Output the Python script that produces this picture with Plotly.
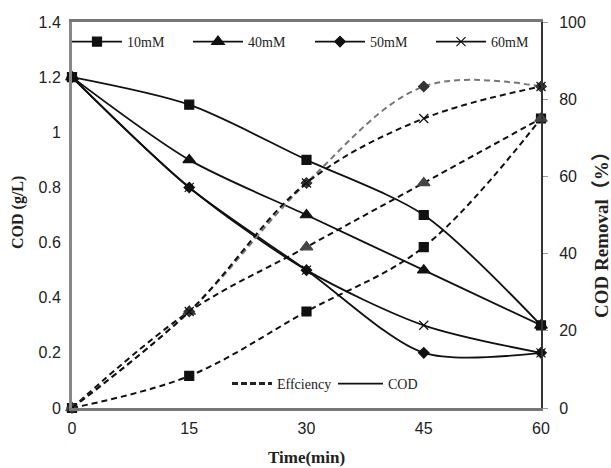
import plotly.graph_objects as go

time_min = [0, 15, 30, 45, 60]
series_names = ["10mM", "40mM", "50mM", "60mM"]

cod_10 = [1.2, 1.1, 0.9, 0.7, 0.3]
cod_40 = [1.2, 0.9, 0.7, 0.5, 0.3]
cod_50 = [1.2, 0.8, 0.5, 0.2, 0.2]
cod_60 = [1.2, 0.8, 0.5, 0.3, 0.2]

eff_10 = [0, 8.3, 25.0, 41.7, 75.0]
eff_40 = [0, 25.0, 41.7, 58.3, 75.0]
eff_50 = [0, 25.0, 58.3, 83.3, 83.3]
eff_60 = [0, 25.0, 58.3, 75.0, 83.3]

cods = [cod_10, cod_40, cod_50, cod_60]
effs = [eff_10, eff_40, eff_50, eff_60]
symbols = ["square", "triangle-up", "diamond", "x-thin"]
sizes = [9, 11, 8, 9]

eff_line_colors = ["#111111", "#111111", "#777777", "#111111"]
eff_marker_colors = ["#111111", "#444444", "#333333", "#111111"]

serif = "Liberation Serif, Times New Roman, serif"
serif_cjk = "Liberation Serif, Noto Sans CJK SC, serif"
sans = "Liberation Sans, Arial, sans-serif"
txt = "#222222"

L, R, T, B = 72, 70, 22, 60
W, H = 611, 468
pw, ph = W - L - R, H - T - B

def px_x(p):
    return (p - L) / pw

def px_y(p):
    return (H - B - p) / ph

fig = go.Figure()

for i in range(4):
    sym = symbols[i]
    fig.add_trace(go.Scatter(
        x=time_min, y=effs[i], yaxis="y2", mode="lines+markers",
        line=dict(color=eff_line_colors[i], width=2, dash="6px,4px", shape="spline", smoothing=1.0),
        marker=dict(symbol=sym, size=sizes[i], color=eff_marker_colors[i],
                    line=dict(color=eff_marker_colors[i] if sym != "x-thin" else "#111111", width=1.2)),
        showlegend=False, cliponaxis=False, hoverinfo="skip"))

legend_ids = ["legend", "legend3", "legend4", "legend5"]
for i in range(4):
    sym = symbols[i]
    fig.add_trace(go.Scatter(
        x=time_min, y=cods[i], mode="lines+markers", name=series_names[i],
        line=dict(color="#111111", width=1.8, shape="spline", smoothing=0.8),
        marker=dict(symbol=sym, size=sizes[i], color="#111111",
                    line=dict(color="#111111", width=1.2)),
        legend=legend_ids[i], cliponaxis=False))

fig.add_trace(go.Scatter(x=[None], y=[None], mode="lines", name="Effciency",
                         line=dict(color="#222222", width=3, dash="6px,3px"), legend="legend2"))
fig.add_trace(go.Scatter(x=[None], y=[None], mode="lines", name="COD",
                         line=dict(color="#111111", width=1.8), legend="legend6"))

annotations = [
    dict(text="<b>COD (g/L)</b>", xref="paper", yref="paper",
         x=px_x(18), y=px_y(213), textangle=-90, showarrow=False,
         xanchor="center", yanchor="middle", font=dict(family=serif, size=16, color=txt)),
    dict(text="<b>COD Removal（%）</b>", xref="paper", yref="paper",
         x=px_x(601), y=px_y(230), textangle=-90, showarrow=False,
         xanchor="center", yanchor="middle", font=dict(family=serif_cjk, size=19, color=txt)),
    dict(text="<b>Time(min)</b>", xref="paper", yref="paper",
         x=0.5, y=px_y(457), showarrow=False,
         xanchor="center", yanchor="middle", font=dict(family=serif, size=17, color=txt)),
]

top_leg = dict(orientation="h", xanchor="left", yanchor="top", y=px_y(26),
               bgcolor="rgba(0,0,0,0)", font=dict(family=serif, size=14, color=txt), itemwidth=50)
leg_x = [67, 188, 310, 431]
bot_leg = dict(orientation="h", xanchor="left", yanchor="top", y=px_y(368),
               bgcolor="rgba(0,0,0,0)", font=dict(family=serif, size=14, color=txt))

fig.update_layout(
    width=W, height=H,
    margin=dict(l=L, r=R, t=T, b=B),
    plot_bgcolor="white", paper_bgcolor="white",
    font=dict(family=sans, size=16, color=txt),
    xaxis=dict(range=[0, 60], tickvals=time_min, showgrid=False, zeroline=False,
               showline=True, linecolor="#777777", linewidth=3, mirror=True,
               ticks="", ticklabelstandoff=4,
               tickfont=dict(family=sans, size=16, color=txt), automargin=False),
    yaxis=dict(range=[0, 1.4], dtick=0.2, showgrid=False, zeroline=False,
               showline=True, linecolor="#888888", linewidth=3, mirror=False,
               ticks="", ticklabelstandoff=5,
               tickfont=dict(family=sans, size=16, color=txt), automargin=False),
    yaxis2=dict(range=[0, 100], dtick=20, overlaying="y", side="right", showgrid=False, zeroline=False,
                showline=True, linecolor="#333333", linewidth=2,
                ticks="outside", ticklen=5, tickcolor="#999999", ticklabelstandoff=8,
                tickfont=dict(family=sans, size=16, color=txt), automargin=False),
    legend=dict(top_leg, x=px_x(leg_x[0])),
    legend3=dict(top_leg, x=px_x(leg_x[1])),
    legend4=dict(top_leg, x=px_x(leg_x[2])),
    legend5=dict(top_leg, x=px_x(leg_x[3])),
    legend2=dict(bot_leg, x=px_x(227), itemwidth=40),
    legend6=dict(bot_leg, x=px_x(333), itemwidth=45),
    annotations=annotations,
)

fig.write_html("out.html", config={"displayModeBar": False},
               post_script="document.body.style.margin='0';document.body.style.overflow='hidden';")
